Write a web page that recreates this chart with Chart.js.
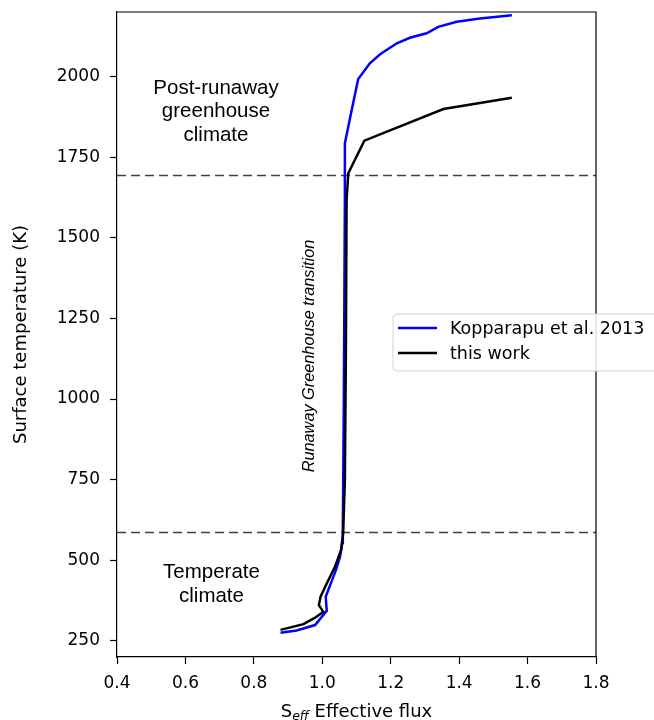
<!DOCTYPE html>
<html>
<head>
<meta charset="utf-8">
<script src="https://cdn.jsdelivr.net/npm/chart.js@4.4.1/dist/chart.umd.min.js"></script>
<style>
  html, body { margin: 0; padding: 0; background: #ffffff; }
  #wrap { width: 654px; height: 720px; }
</style>
</head>
<body>
<div id="wrap"><canvas id="seffChart" width="654" height="720"></canvas></div>
<script>
// Kopparapu et al. 2013 curve
const kopFlux = [0.878, 0.925, 0.979, 1.013, 1.010, 1.023, 1.040, 1.052, 1.058, 1.060, 1.063, 1.066, 1.066, 1.086, 1.105, 1.139, 1.169, 1.218, 1.256, 1.305, 1.339, 1.393, 1.461, 1.554];
const kopTemp = [275, 282, 299, 343, 387, 423, 470, 511, 553, 589, 1000, 1617, 1793, 1896, 1992, 2041, 2069, 2103, 2120, 2134, 2154, 2170, 2180, 2190];

// this work
const workFlux = [0.878, 0.945, 0.979, 1.003, 0.990, 0.995, 1.013, 1.037, 1.055, 1.061, 1.066, 1.069, 1.071, 1.076, 1.123, 1.354, 1.554];
const workTemp = [284, 302, 322, 340, 361, 387, 428, 480, 532, 584, 749, 1150, 1617, 1700, 1801, 1899, 1934];

// dashed limits of the runaway transition
const transitionTemps = [1693, 586];

const xRange = [0.4, 1.8];
const yRange = [200, 2200];
const xTicks = [0.4, 0.6, 0.8, 1.0, 1.2, 1.4, 1.6, 1.8];
const yTicks = [250, 500, 750, 1000, 1250, 1500, 1750, 2000];

const seriesNames = ['Kopparapu et al. 2013', 'this work'];
const seriesColors = ['#0000ff', '#000000'];

function toPoints(xs, ys) {
  return xs.map(function(x, i) { return { x: x, y: ys[i] }; });
}

const datasets = [
  {
    label: seriesNames[0],
    data: toPoints(kopFlux, kopTemp),
    borderColor: seriesColors[0],
    borderWidth: 2.5,
    order: 2
  },
  {
    label: seriesNames[1],
    data: toPoints(workFlux, workTemp),
    borderColor: seriesColors[1],
    borderWidth: 2.5,
    order: 1
  }
];

transitionTemps.forEach(function(t) {
  datasets.push({
    label: 'limit',
    data: toPoints(xRange, [t, t]),
    borderColor: '#404040',
    borderWidth: 1.4,
    borderDash: [9, 5],
    order: 3
  });
});

// frame, annotations, custom legend and axis titles
const decorPlugin = {
  id: 'decor',
  afterDraw: function(chart) {
    const ctx = chart.ctx;
    const a = chart.chartArea;
    ctx.save();

    // top and right spines
    ctx.strokeStyle = '#000';
    ctx.lineWidth = 1.2;
    ctx.beginPath();
    ctx.moveTo(a.left, a.top);
    ctx.lineTo(a.right, a.top);
    ctx.lineTo(a.right, a.bottom);
    ctx.stroke();

    // region labels
    ctx.fillStyle = '#000';
    ctx.textAlign = 'center';
    ctx.textBaseline = 'middle';
    ctx.font = '20.5px "Liberation Sans", Arial, sans-serif';
    ['Post-runaway', 'greenhouse', 'climate'].forEach(function(s, i) {
      ctx.fillText(s, 216, 88 + i * 23.5);
    });
    ['Temperate', 'climate'].forEach(function(s, i) {
      ctx.fillText(s, 211.5, 572 + i * 24);
    });

    // rotated transition label
    ctx.save();
    ctx.translate(309, 356);
    ctx.rotate(-Math.PI / 2);
    ctx.font = 'italic 16.3px "Liberation Sans", Arial, sans-serif';
    ctx.fillText('Runaway Greenhouse transition', 0, 0);
    ctx.restore();

    // y axis title
    ctx.save();
    ctx.translate(21, (a.top + a.bottom) / 2);
    ctx.rotate(-Math.PI / 2);
    ctx.font = '18px "DejaVu Sans", sans-serif';
    ctx.fillText('Surface temperature (K)', 0, 0);
    ctx.restore();

    // x axis title with subscript
    const cx = (a.left + a.right) / 2;
    const by = 717;
    const mainFont = '18px "DejaVu Sans", sans-serif';
    const subFont = 'italic 12.5px "DejaVu Sans", sans-serif';
    ctx.textBaseline = 'alphabetic';
    ctx.textAlign = 'left';
    ctx.font = mainFont;
    const w1 = ctx.measureText('S').width;
    const w3 = ctx.measureText(' Effective flux').width;
    ctx.font = subFont;
    const w2 = ctx.measureText('eff').width;
    let x0 = cx - (w1 + w2 + w3) / 2;
    ctx.font = mainFont;
    ctx.fillText('S', x0, by);
    ctx.font = subFont;
    ctx.fillText('eff', x0 + w1, by + 3);
    ctx.font = mainFont;
    ctx.fillText(' Effective flux', x0 + w1 + w2, by);

    // legend box
    const lx = 393, ly = 314, lw = 270, lh = 57, r = 4;
    ctx.beginPath();
    ctx.moveTo(lx + r, ly);
    ctx.lineTo(lx + lw - r, ly);
    ctx.arcTo(lx + lw, ly, lx + lw, ly + r, r);
    ctx.lineTo(lx + lw, ly + lh - r);
    ctx.arcTo(lx + lw, ly + lh, lx + lw - r, ly + lh, r);
    ctx.lineTo(lx + r, ly + lh);
    ctx.arcTo(lx, ly + lh, lx, ly + lh - r, r);
    ctx.lineTo(lx, ly + r);
    ctx.arcTo(lx, ly, lx + r, ly, r);
    ctx.closePath();
    ctx.fillStyle = 'rgba(255,255,255,0.85)';
    ctx.fill();
    ctx.strokeStyle = '#d3d3d3';
    ctx.lineWidth = 1;
    ctx.stroke();

    ctx.font = '17.5px "DejaVu Sans", sans-serif';
    ctx.textBaseline = 'middle';
    seriesNames.forEach(function(name, i) {
      const yy = 328 + i * 25;
      ctx.strokeStyle = seriesColors[i];
      ctx.lineWidth = 2.5;
      ctx.beginPath();
      ctx.moveTo(398, yy);
      ctx.lineTo(437, yy);
      ctx.stroke();
      ctx.fillStyle = '#000';
      ctx.fillText(name, 450, yy + 1);
    });

    ctx.restore();
  }
};

const tickFont = { family: '"DejaVu Sans", sans-serif', size: 17 };

new Chart(document.getElementById('seffChart').getContext('2d'), {
  type: 'scatter',
  data: { datasets: datasets },
  options: {
    responsive: false,
    animation: false,
    showLine: true,
    layout: { padding: { top: 12, right: 58, left: 0, bottom: 0 } },
    elements: {
      point: { radius: 0, hoverRadius: 0 },
      line: { tension: 0, fill: false }
    },
    plugins: {
      legend: { display: false },
      tooltip: { enabled: false }
    },
    scales: {
      x: {
        type: 'linear',
        min: xRange[0],
        max: xRange[1],
        afterBuildTicks: function(axis) {
          axis.ticks = xTicks.map(function(v) { return { value: v }; });
        },
        afterFit: function(axis) {
          axis.height = 63;
          axis.paddingLeft = 0;
          axis.paddingRight = 0;
        },
        ticks: {
          color: '#000',
          font: tickFont,
          padding: 9,
          maxRotation: 0,
          callback: function(v) { return Number(v).toFixed(1); }
        },
        grid: { drawOnChartArea: false, tickLength: 7, tickColor: '#000', tickWidth: 1.2 },
        border: { color: '#000', width: 1.2 }
      },
      y: {
        type: 'linear',
        min: yRange[0],
        max: yRange[1],
        afterBuildTicks: function(axis) {
          axis.ticks = yTicks.map(function(v) { return { value: v }; });
        },
        afterFit: function(axis) {
          axis.width = 117;
          axis.paddingTop = 0;
          axis.paddingBottom = 0;
        },
        ticks: {
          color: '#000',
          font: tickFont,
          padding: 10,
          callback: function(v) { return String(v); }
        },
        grid: { drawOnChartArea: false, tickLength: 7, tickColor: '#000', tickWidth: 1.2 },
        border: { color: '#000', width: 1.2 }
      }
    }
  },
  plugins: [decorPlugin]
});
</script>
</body>
</html>
